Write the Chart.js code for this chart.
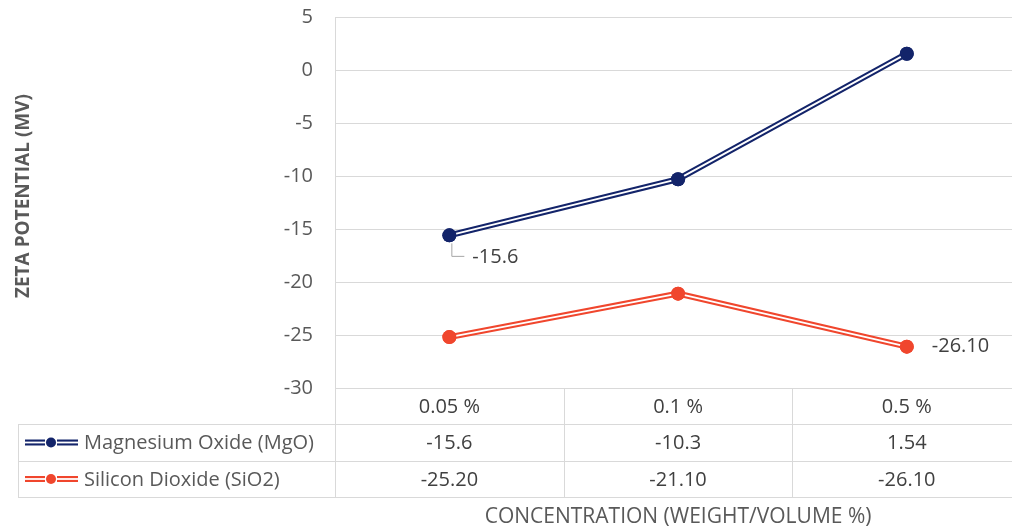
<!DOCTYPE html>
<html>
<head>
<meta charset="utf-8">
<script src="https://cdn.jsdelivr.net/npm/chart.js@4.4.1/dist/chart.umd.min.js"></script>
<style>
  html, body { margin: 0; padding: 0; background: #fff; }
  #wrap { width: 1012px; height: 531px; }
</style>
</head>
<body>
<div id="wrap"><canvas id="c" width="1012" height="531"></canvas></div>
<script>
  // data
  const categories = ['0.05 %', '0.1 %', '0.5 %'];
  const seriesNames = ['Magnesium Oxide (MgO)', 'Silicon Dioxide (SiO2)'];
  const mgo = [-15.6, -10.3, 1.54];
  const sio2 = [-25.2, -21.1, -26.1];
  const mgoText = ['-15.6', '-10.3', '1.54'];
  const sio2Text = ['-25.20', '-21.10', '-26.10'];
  const yTitle = 'ZETA POTENTIAL (MV)';
  const xTitle = 'CONCENTRATION (WEIGHT/VOLUME %)';

  const NAVY = '#13246a';
  const RED = '#f0462d';
  const GRID = '#d9d9d9';
  const FONT = '"Open Sans", sans-serif';

  function pts(arr) {
    return arr.map((v, i) => ({ x: i, y: v }));
  }

  // white core line on top of the thick coloured one, then dots again
  const doubleLine = {
    id: 'doubleLine',
    afterDatasetsDraw(chart) {
      const ctx = chart.ctx;
      chart.data.datasets.forEach((ds, di) => {
        const meta = chart.getDatasetMeta(di);
        ctx.save();
        ctx.strokeStyle = '#ffffff';
        ctx.lineWidth = 1.9;
        ctx.lineJoin = 'round';
        ctx.beginPath();
        meta.data.forEach((p, i) => {
          if (i === 0) ctx.moveTo(p.x, p.y); else ctx.lineTo(p.x, p.y);
        });
        ctx.stroke();
        ctx.restore();
        meta.data.forEach(p => p.draw(ctx, chart.chartArea));
      });
    }
  };

  // data labels, data table, axis titles
  const extras = {
    id: 'extras',
    afterDraw(chart) {
      const ctx = chart.ctx;
      const xs = chart.scales.x;
      const area = chart.chartArea;
      const m0 = chart.getDatasetMeta(0).data[0];
      const s2 = chart.getDatasetMeta(1).data[2];

      ctx.save();
      ctx.font = '20px ' + FONT;
      ctx.fillStyle = '#404040';
      ctx.textBaseline = 'middle';
      ctx.textAlign = 'left';

      // -15.6 with leader line
      ctx.strokeStyle = '#a6a6a6';
      ctx.lineWidth = 1;
      ctx.beginPath();
      ctx.moveTo(m0.x + 2.5, m0.y + 8);
      ctx.lineTo(m0.x + 2.5, m0.y + 21);
      ctx.lineTo(m0.x + 15, m0.y + 21);
      ctx.stroke();
      ctx.fillText(mgoText[0], m0.x + 23, m0.y + 22);
      // -26.10
      ctx.fillText(sio2Text[2], s2.x + 25, s2.y);

      // data table
      const top = area.bottom;
      const r1 = 424, r2 = 461, r3 = 497;
      const left = 18;
      ctx.strokeStyle = GRID;
      ctx.lineWidth = 1;
      ctx.beginPath();
      [r1, r2, r3].forEach(y => {
        ctx.moveTo(left, y + 0.5);
        ctx.lineTo(chart.width, y + 0.5);
      });
      ctx.moveTo(left + 0.5, r1);
      ctx.lineTo(left + 0.5, r3);
      [-0.5, 0.5, 1.5].forEach(v => {
        const x = Math.round(xs.getPixelForValue(v)) + 0.5;
        ctx.moveTo(x, top);
        ctx.lineTo(x, r3);
      });
      ctx.stroke();

      ctx.textAlign = 'center';
      categories.forEach((c, i) => {
        const x = xs.getPixelForValue(i);
        ctx.fillText(c, x, (top + r1) / 2 + 1);
        ctx.fillText(mgoText[i], x, (r1 + r2) / 2 + 1);
        ctx.fillText(sio2Text[i], x, (r2 + r3) / 2 + 1);
      });

      // legend keys
      [[NAVY, (r1 + r2) / 2], [RED, (r2 + r3) / 2]].forEach(([col, y], k) => {
        [[25, 45], [57, 78]].forEach(([a, b]) => {
          ctx.strokeStyle = col;
          ctx.lineWidth = 6;
          ctx.beginPath(); ctx.moveTo(a, y); ctx.lineTo(b, y); ctx.stroke();
          ctx.strokeStyle = '#fff';
          ctx.lineWidth = 1.8;
          ctx.beginPath(); ctx.moveTo(a, y); ctx.lineTo(b, y); ctx.stroke();
        });
        ctx.fillStyle = col;
        ctx.beginPath(); ctx.arc(51, y, 5, 0, Math.PI * 2); ctx.fill();
        ctx.fillStyle = '#595959';
        ctx.textAlign = 'left';
        ctx.fillText(seriesNames[k], 84, y + 1);
      });

      // axis titles
      ctx.fillStyle = '#595959';
      ctx.textAlign = 'center';
      ctx.font = '21px ' + FONT;
      ctx.fillText(xTitle, (area.left + xs.getPixelForValue(2.5)) / 2, 517);
      ctx.save();
      ctx.translate(24, 196);
      ctx.rotate(-Math.PI / 2);
      ctx.font = 'bold 19px ' + FONT;
      ctx.fillText(yTitle, 0, 0);
      ctx.restore();
      ctx.restore();
    }
  };

  new Chart(document.getElementById('c'), {
    type: 'line',
    data: {
      datasets: [
        {
          label: seriesNames[0],
          data: pts(mgo),
          borderColor: NAVY,
          backgroundColor: NAVY,
          borderWidth: 6,
          pointRadius: 7,
          pointBorderWidth: 0,
          pointBackgroundColor: NAVY
        },
        {
          label: seriesNames[1],
          data: pts(sio2),
          borderColor: RED,
          backgroundColor: RED,
          borderWidth: 6,
          pointRadius: 7,
          pointBorderWidth: 0,
          pointBackgroundColor: RED
        }
      ]
    },
    options: {
      responsive: false,
      animation: false,
      layout: { autoPadding: false, padding: { top: 17, bottom: 143, left: 0, right: 0 } },
      plugins: {
        legend: { display: false },
        tooltip: { enabled: false }
      },
      scales: {
        x: {
          type: 'linear',
          min: -0.5,
          max: 2.46,
          display: false
        },
        y: {
          min: -30,
          max: 5,
          afterFit(scale) {
            scale.width = 335;
            scale.paddingTop = 0;
            scale.paddingBottom = 0;
          },
          ticks: {
            stepSize: 5,
            padding: 22,
            color: '#595959',
            font: { family: FONT, size: 20 }
          },
          grid: { color: GRID, drawTicks: false },
          border: { display: true, color: GRID }
        }
      }
    },
    plugins: [doubleLine, extras]
  });
</script>
</body>
</html>
